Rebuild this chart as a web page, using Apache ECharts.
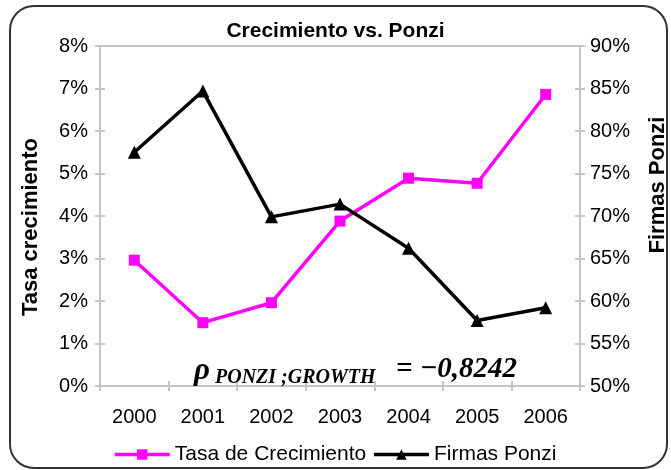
<!DOCTYPE html>
<html>
<head>
<meta charset="utf-8">
<script src="https://cdn.jsdelivr.net/npm/echarts@6/dist/echarts.min.js"></script>
<style>
html,body{margin:0;padding:0;background:#fff;}
#chart{width:671px;height:470px;}
</style>
</head>
<body>
<div id="chart"></div>
<script>
const years = ['2000', '2001', '2002', '2003', '2004', '2005', '2006'];
const tasaCrecimiento = [2.96, 1.49, 1.96, 3.88, 4.89, 4.77, 6.86];
const firmasPonzi = [77.5, 84.7, 69.9, 71.4, 66.2, 57.7, 59.2];
const seriesNames = ['Tasa de Crecimiento', 'Firmas Ponzi'];
const axisNames = ['Tasa crecimiento', 'Firmas Ponzi'];
const titleText = 'Crecimiento vs. Ponzi';
const rhoText = 'ρ';
const rhoSub = 'PONZI ;GROWTH';
const rhoValue = '= −0,8242';

const SANS = 'Liberation Sans, Arial, sans-serif';
const SERIF = 'Liberation Serif, Times New Roman, serif';
const AX = '#c4c4c4';

const chart = echarts.init(document.getElementById('chart'), null, {renderer: 'canvas'});
const grid = {left: 100, right: 91, top: 46, bottom: 84, containLabel: false, outerBoundsMode: 'none'};

function yAx(pos, min, max, interval, opts) {
  return Object.assign({
    type: 'value', position: pos, min: min, max: max, interval: interval,
    axisLine: {show: true, lineStyle: {color: AX, width: 2}},
    axisTick: {show: true, length: 5, inside: false, lineStyle: {color: AX, width: 2}},
    splitLine: {show: false},
    axisLabel: {show: true, fontFamily: SANS, fontSize: 20, color: '#000', formatter: '{value}%'}
  }, opts || {});
}

chart.setOption({
  animation: false,
  backgroundColor: '#fff',
  title: {
    text: titleText, left: 'center', top: 16,
    textStyle: {fontFamily: SANS, fontSize: 21, fontWeight: 'bold', color: '#000'}
  },
  grid: grid,
  legend: {
    left: 108, top: 439, itemWidth: 55, itemHeight: 13, itemGap: 6,
    textStyle: {fontFamily: SANS, fontSize: 21, color: '#000'},
    data: [
      {name: seriesNames[0], lineStyle: {width: 3.5, color: '#ff00ff'}},
      {name: seriesNames[1], lineStyle: {width: 3.5, color: '#000'}}
    ]
  },
  xAxis: [
    {
      type: 'category', data: years, position: 'bottom', boundaryGap: true,
      axisLine: {show: true, lineStyle: {color: AX, width: 2}},
      axisTick: {show: true, length: 5, alignWithLabel: false, lineStyle: {color: AX, width: 2}},
      axisLabel: {fontFamily: SANS, fontSize: 20, color: '#000', margin: 21},
      splitLine: {show: false}
    },
    {
      type: 'category', data: years, position: 'bottom', offset: 0, boundaryGap: true,
      axisLine: {show: false},
      axisTick: {show: true, inside: true, length: 5, lineStyle: {color: AX, width: 2}},
      axisLabel: {show: false}, splitLine: {show: false}
    },
    {
      type: 'category', data: years, position: 'top', offset: 0, boundaryGap: true,
      axisLine: {show: true, lineStyle: {color: AX, width: 2}},
      axisTick: {show: false}, axisLabel: {show: false}, splitLine: {show: false}
    }
  ],
  yAxis: [
    yAx('left', 0, 8, 1, {
      name: axisNames[0], nameLocation: 'middle', nameRotate: 90, nameGap: 58, nameMoveOverlap: false,
      nameTextStyle: {fontFamily: SANS, fontSize: 22, fontWeight: 'bold', color: '#000', padding: [0, 22, 0, 0]},
      axisLabel: {fontFamily: SANS, fontSize: 20, color: '#000', formatter: '{value}%', margin: 12}
    }),
    yAx('right', 50, 90, 5, {
      name: axisNames[1], nameLocation: 'middle', nameRotate: 90, nameGap: 67, nameMoveOverlap: false,
      nameTextStyle: {fontFamily: SANS, fontSize: 22, fontWeight: 'bold', color: '#000', padding: [0, 0, 0, 62]},
      axisLabel: {fontFamily: SANS, fontSize: 20, color: '#000', formatter: '{value}%', margin: 10}
    }),
    yAx('left', 0, 8, 1, {offset: 0, axisLine: {show: false}, axisLabel: {show: false},
      axisTick: {show: true, inside: true, length: 5, lineStyle: {color: AX, width: 2}}}),
    yAx('right', 50, 90, 5, {offset: 0, axisLine: {show: false}, axisLabel: {show: false},
      axisTick: {show: true, inside: true, length: 5, lineStyle: {color: AX, width: 2}}})
  ],
  series: [
    {
      name: seriesNames[0], type: 'line', xAxisIndex: 0, yAxisIndex: 0,
      data: tasaCrecimiento,
      symbol: 'rect', symbolSize: 11,
      lineStyle: {color: '#ff00ff', width: 3.5},
      itemStyle: {color: '#ff00ff'},
      z: 3
    },
    {
      name: seriesNames[1], type: 'line', xAxisIndex: 0, yAxisIndex: 1,
      data: firmasPonzi,
      symbol: 'triangle', symbolSize: 13,
      lineStyle: {color: '#000', width: 3.5},
      itemStyle: {color: '#000'},
      z: 4
    }
  ],
  graphic: [
    {
      type: 'rect', silent: true, z: 100,
      shape: {x: 10, y: 6, width: 657, height: 462, r: 24},
      style: {fill: 'none', stroke: '#333', lineWidth: 2}
    },
    {
      type: 'text', z: 50,
      style: {x: 194, y: 371, text: rhoText, font: 'italic bold 31px ' + SERIF, fill: '#000', verticalAlign: 'middle', align: 'left'}
    },
    {
      type: 'text', z: 50,
      style: {x: 215, y: 378, text: rhoSub, font: 'italic bold 20px ' + SERIF, fill: '#000', verticalAlign: 'middle', align: 'left'}
    },
    {
      type: 'text', z: 50,
      style: {x: 396, y: 370, text: rhoValue, font: 'italic bold 29px ' + SERIF, fill: '#000', verticalAlign: 'middle', align: 'left'}
    }
  ]
});
</script>
</body>
</html>
